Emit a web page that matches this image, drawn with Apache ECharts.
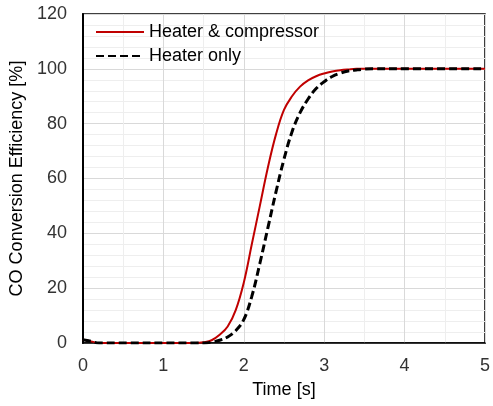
<!DOCTYPE html>
<html>
<head>
<meta charset="utf-8">
<script src="https://cdn.jsdelivr.net/npm/echarts@6/dist/echarts.min.js"></script>
<style>
  html, body { margin: 0; padding: 0; background: #fff; }
  #chart { width: 493px; height: 406px; }
</style>
</head>
<body>
<div id="chart"></div>
<script>
const times = [0, 0.1, 0.2, 1.4, 1.5, 1.6, 1.7, 1.8, 1.9, 2.0, 2.1, 2.2, 2.3, 2.4, 2.5, 2.6, 2.7, 2.8, 2.9, 3.0, 3.1, 3.2, 3.3, 3.4, 3.5, 3.6, 4, 5];
const heaterCompressor = [1.2, 0.6, 0, 0, 0.3, 1, 3, 6, 12, 22, 36, 50, 64, 76, 85, 90, 93.5, 95.8, 97.3, 98.3, 99, 99.5, 99.8, 100, 100, 100, 100, 100];
const heaterOnly = [1.2, 0.6, 0, 0, 0, 0.3, 1, 2.2, 4.5, 8.5, 17, 29, 42, 55, 67, 77, 84, 89, 92.8, 95.3, 97.2, 98.4, 99.2, 99.6, 99.9, 100, 100, 100];
const seriesNames = ['Heater & compressor', 'Heater only'];

const chart = echarts.init(document.getElementById('chart'));
const font = 'Liberation Sans, Arial, sans-serif';
const pairs = ys => times.map((t, i) => [t, ys[i]]);

chart.setOption({
  animation: false,
  grid: { left: 77, right: 5, top: 14, bottom: 63, show: true, borderColor: '#000', borderWidth: 1.5 },
  legend: {
    orient: 'vertical',
    left: 90,
    top: 18,
    itemWidth: 48,
    itemHeight: 12,
    itemGap: 6,
    itemStyle: { opacity: 0 },
    textStyle: { fontFamily: font, fontSize: 18, color: '#000' },
    data: seriesNames
  },
  xAxis: {
    type: 'value',
    min: 0,
    max: 5,
    interval: 1,
    name: 'Time [s]',
    nameLocation: 'middle',
    nameGap: 38,
    nameTextStyle: { fontFamily: font, fontSize: 18, color: '#000' },
    axisLine: { lineStyle: { color: '#000', width: 1.5 } },
    axisTick: { show: false },
    axisLabel: { margin: 14, fontFamily: font, fontSize: 18, color: '#333' },
    splitLine: { show: true, lineStyle: { color: '#d9d9d9', width: 1 } },
    minorTick: { show: false, splitNumber: 2 },
    minorSplitLine: { show: true, lineStyle: { color: '#eeeeee', width: 1 } }
  },
  yAxis: {
    type: 'value',
    min: 0,
    max: 120,
    interval: 20,
    name: 'CO Conversion Efficiency [%]',
    nameLocation: 'middle',
    nameRotate: 90,
    nameGap: 50,
    nameTextStyle: { fontFamily: font, fontSize: 18, color: '#000' },
    axisLine: { show: true, lineStyle: { color: '#000', width: 2 } },
    axisTick: { show: false },
    axisLabel: { margin: 16, fontFamily: font, fontSize: 18, color: '#333' },
    splitLine: { show: true, lineStyle: { color: '#d9d9d9', width: 1 } },
    minorTick: { show: false, splitNumber: 5 },
    minorSplitLine: { show: true, lineStyle: { color: '#eeeeee', width: 1 } }
  },
  series: [
    {
      name: seriesNames[0],
      type: 'line',
      data: pairs(heaterCompressor),
      symbol: 'none',
      smooth: 0.4,
      lineStyle: { color: '#c00000', width: 2 },
      itemStyle: { color: '#c00000' }
    },
    {
      name: seriesNames[1],
      type: 'line',
      data: pairs(heaterOnly),
      symbol: 'none',
      smooth: 0.4,
      lineStyle: { color: '#000', width: 3, type: [8, 4] },
      itemStyle: { color: '#000' }
    }
  ]
});
</script>
</body>
</html>
